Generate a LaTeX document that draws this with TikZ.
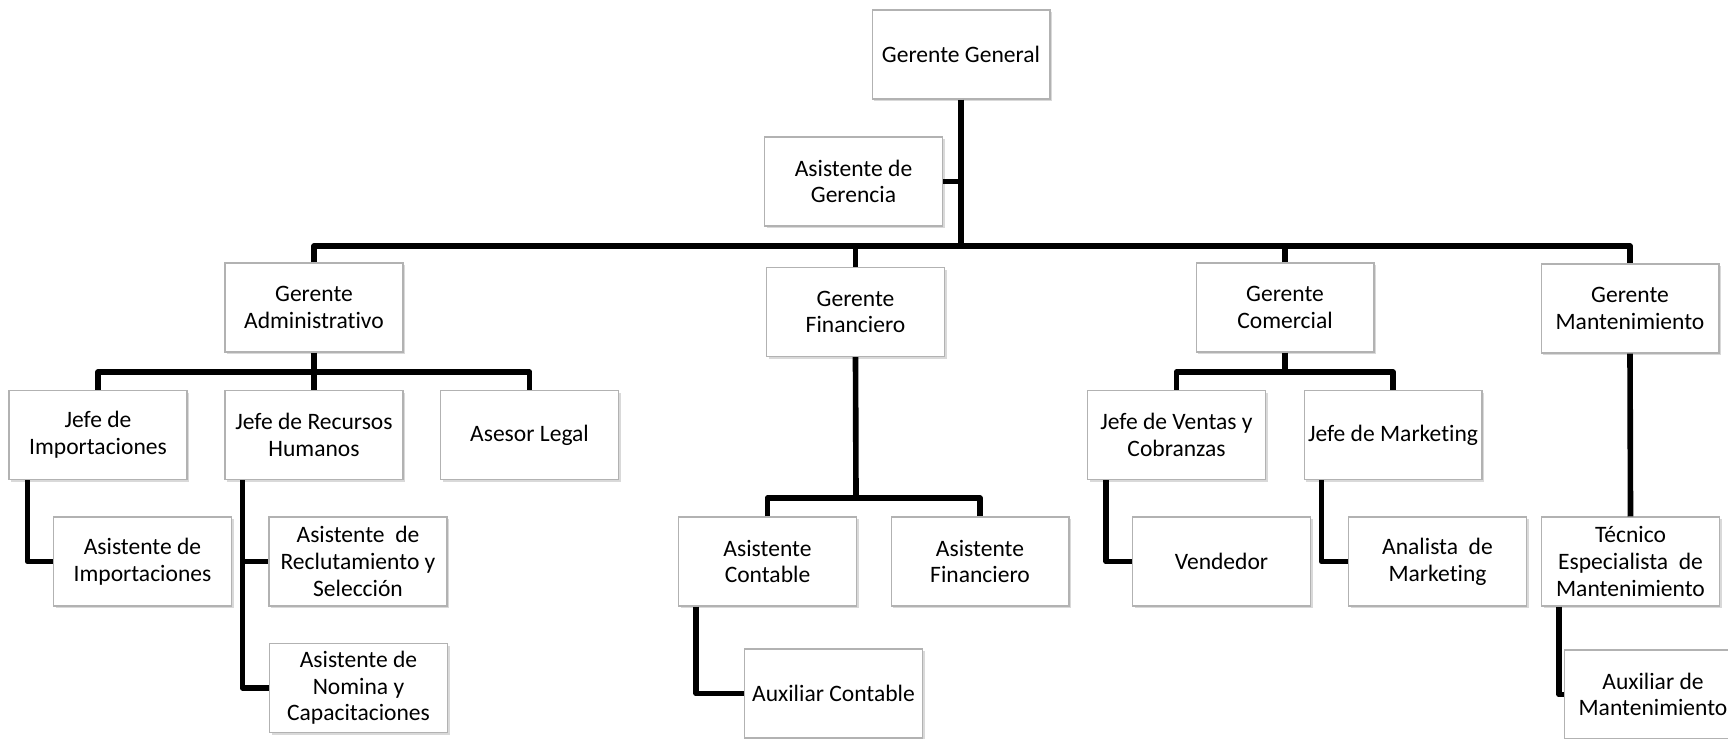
\documentclass[tikz,border=0pt]{standalone}
\usepackage{fontspec}
\setmainfont[Ligatures=NoCommon]{Carlito}
\usetikzlibrary{calc,shadows}

\begin{document}
\begin{tikzpicture}[x=0.02cm,y=-0.02cm]
        \useasboundingbox (0,0) rectangle (1728,738);

        \begin{scope}[every node/.style={draw=gray!60,fill=white,line width=0.6pt,
            minimum width=3.56cm,minimum height=1.78cm,inner sep=1pt,align=center,
            font=\fontsize{13.4}{15.2}\selectfont,
            drop shadow={shadow xshift=1.2pt,shadow yshift=-1.2pt,opacity=0.3}}]
          \node (gg) at (961,54.5)    {Gerente General};
          \node (ag) at (853.5,181.5) {Asistente de\\Gerencia};
          \node (ga) at (314,307.5)   {Gerente\\Administrativo};
          \node (gf) at (855.5,312)   {Gerente\\Financiero};
          \node (gc) at (1285,307.5)  {Gerente\\Comercial};
          \node (gm) at (1630,308.5)  {Gerente\\Mantenimiento};
          \node (ji) at (98,435)      {Jefe de\\Importaciones};
          \node (jr) at (314,435)     {Jefe de Recursos\\Humanos};
          \node (al) at (529.5,435)   {Asesor Legal};
          \node (ai) at (142.5,561.5) {Asistente de\\Importaciones};
          \node (ar) at (358,561.5)   {Asistente~ de\\Reclutamiento y\\Selección};
          \node (an) at (358.5,688)   {Asistente de\\Nomina y\\Capacitaciones};
          \node (ac) at (767.5,561.5) {Asistente\\Contable};
          \node (af) at (980,561.5)   {Asistente\\Financiero};
          \node (ax) at (833.5,693.5) {Auxiliar Contable};
          \node (jv) at (1176.5,435)  {Jefe de Ventas y\\Cobranzas};
          \node (jm) at (1393,435)    {Jefe de Marketing};
          \node (ve) at (1221.5,561.5) {Vendedor};
          \node (am) at (1437.5,561.5) {Analista~ de\\Marketing};
          \node (te) at (1630.5,561.5) {Técnico\\Especialista~ de\\Mantenimiento};
          \node (au) at (1653,694.5)  {Auxiliar de\\Mantenimiento};
        \end{scope}

        \begin{scope}[line width=3.2pt,line join=round]
          \coordinate (bus)   at (961,246);
          \coordinate (gabus) at (314,372);
          \coordinate (gfbus) at (856,498);
          \coordinate (gcbus) at (1285,372);

          \draw (gg.south) -- (bus);
          \draw (ag.east) -- (ag.east -| gg.south);
          \draw (ga.north) |- (bus) -| (gm.north);
          \draw (gf.north) -- (gf.north |- bus);
          \draw (gc.north) -- (gc.north |- bus);

          \draw (ji.north) |- (gabus) -| (al.north);
          \draw (ga.south) -- (jr.north);
          \draw ($(ji.south west)+(19,0)$) |- (ai.west);
          \draw ($(jr.south west)+(18,0)$) |- (an.west);
          \draw ($(jr.south west)+(18,0)$) |- (ar.west);

          \draw (gf.south) -- (gfbus);
          \draw (ac.north) |- (gfbus) -| (af.north);
          \draw ($(ac.south west)+(18,0)$) |- (ax.west);

          \draw (jv.north) |- (gcbus) -| (jm.north);
          \draw (gc.south) -- (gcbus);
          \draw ($(jv.south west)+(19,0)$) |- (ve.west);
          \draw ($(jm.south west)+(18,0)$) |- (am.west);

          \draw (gm.south) -- (te.north);
          \draw ($(te.south west)+(18,0)$) |- (au.west);
        \end{scope}

      \end{tikzpicture}
\end{document}
